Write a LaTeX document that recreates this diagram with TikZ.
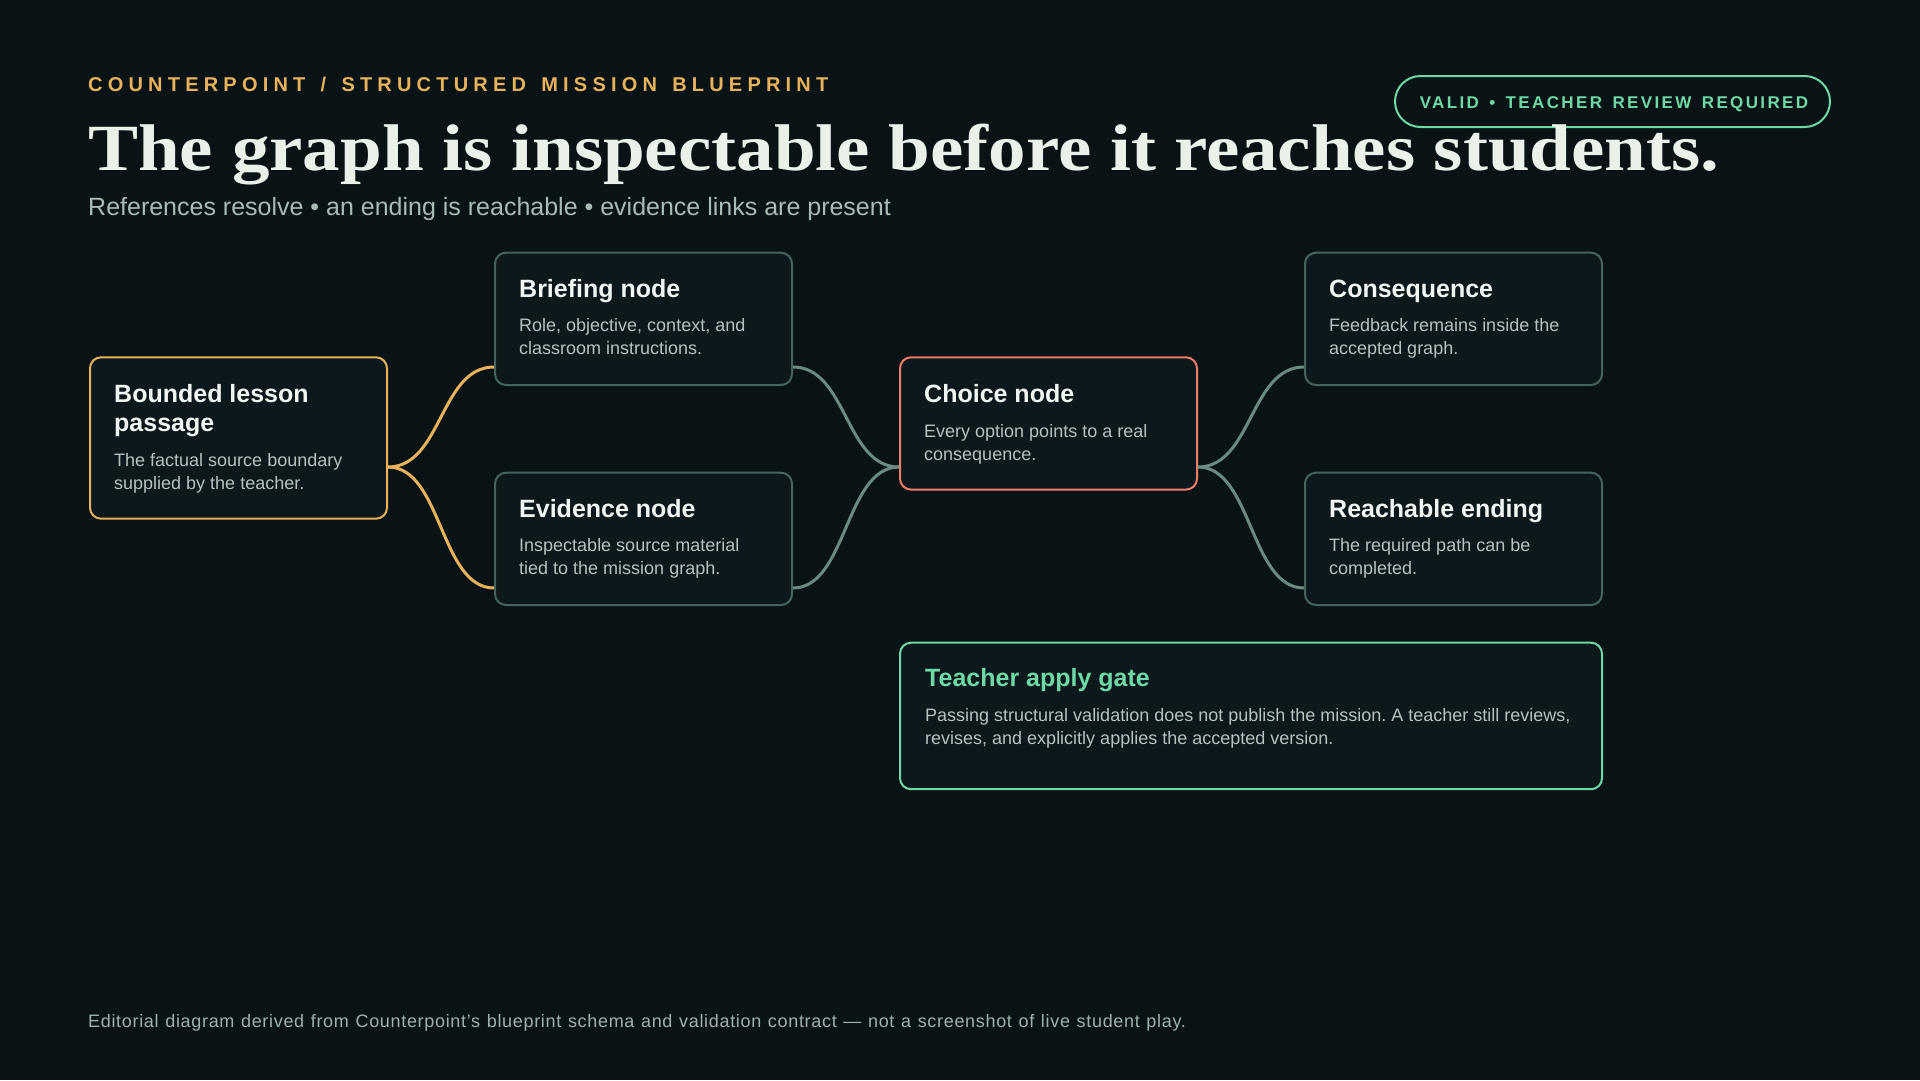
\documentclass[tikz,border=0pt]{standalone}
\usepackage{fontspec}
\setmainfont{Liberation Sans}
\newfontfamily\titlefont{Liberation Serif}[FakeStretch=1.137]
\newfontfamily\eyebrowfont{Liberation Sans}[LetterSpace=26,WordSpace=1.42]
\newfontfamily\badgefont{Liberation Sans}[LetterSpace=14,WordSpace=1.46]
\newfontfamily\footfont{Liberation Sans}[LetterSpace=3.8,WordSpace=1.17]
\usetikzlibrary{calc}
\frenchspacing
\definecolor{bg}{HTML}{091315}
\definecolor{nodefill}{HTML}{0C181B}
\definecolor{nodeline}{HTML}{46635D}
\definecolor{connline}{HTML}{6A8A82}
\definecolor{accorange}{HTML}{E8B15C}
\definecolor{accsalmon}{HTML}{EE7C69}
\definecolor{accgreen}{HTML}{6ED9A6}
\definecolor{headtext}{HTML}{E9F1E9}
\definecolor{titletext}{HTML}{F2F6F2}
\definecolor{bodytext}{HTML}{B4C3BF}
\definecolor{subtext}{HTML}{A8BBB6}
\definecolor{foottext}{HTML}{9DB2AD}
\begin{document}
\frenchspacing
\begin{tikzpicture}[x=1pt,y=-1pt,
  box/.style={draw=nodeline, line width=2pt, fill=nodefill, rounded corners=11pt,
    minimum width=297pt, minimum height=132.3pt, anchor=north west, inner sep=0pt},
  ttl/.style={anchor=base west, inner sep=0pt, text=titletext,
    font=\fontsize{25}{29}\selectfont\bfseries},
  bodytxt/.style={anchor=base west, inner sep=0pt, text=bodytext,
    font=\fontsize{18}{23}\selectfont},
  conn/.style={line width=3pt, connline},
  connorange/.style={line width=3pt, accorange}]
\useasboundingbox (0,0) rectangle (1920,1080);
\fill[bg] (0,0) rectangle (1920,1080);

% header
\node[anchor=base west, inner sep=0pt, text=accorange,
  font=\eyebrowfont\bfseries\fontsize{20}{24}\selectfont] (eyebrow) at (88,91)
  {COUNTERPOINT / STRUCTURED MISSION BLUEPRINT};
\node[draw=accgreen, line width=2pt, rounded corners=25.5pt, minimum width=435pt,
  minimum height=51pt, inner sep=0pt] (badge) at (1612.5,101.5) {};
\node[anchor=base, inner sep=0pt, text=accgreen,
  font=\badgefont\bfseries\fontsize{17}{20}\selectfont] (badgetext) at (1614,108)
  {VALID • TEACHER REVIEW REQUIRED};
\node[anchor=base west, inner sep=0pt, text=headtext,
  font=\titlefont\bfseries\fontsize{66}{72}\selectfont] (title) at (88,170)
  {The graph is inspectable before it reaches students.};
\node[anchor=base west, inner sep=0pt, text=subtext,
  font=\fontsize{25}{30}\selectfont] (subtitle) at (88,215)
  {References resolve • an ending is reachable • evidence links are present};

% boxes
\node[box, draw=accorange, minimum height=161.4pt] (bounded) at (89,356.3) {};
\node[box] (brief) at (494,251.7) {};
\node[box] (evid) at (494,471.7) {};
\node[box, draw=accsalmon] (choice) at (899,356.3) {};
\node[box] (cons) at (1304,251.7) {};
\node[box] (reach) at (1304,471.7) {};
\node[box, draw=accgreen, minimum width=702pt, minimum height=146.5pt] (gate) at (899,641.7) {};

% connection points
\coordinate (boundedOut) at (bounded.east |- 0,467);
\coordinate (briefIn) at (brief.west |- 0,367);
\coordinate (evidIn) at (evid.west |- 0,588);
\coordinate (briefOut) at (brief.east |- 0,367);
\coordinate (evidOut) at (evid.east |- 0,588);
\coordinate (choiceIn) at (choice.west |- 0,467);
\coordinate (choiceOut) at (choice.east |- 0,467);
\coordinate (consIn) at (cons.west |- 0,367);
\coordinate (reachIn) at (reach.west |- 0,588);

\draw[connorange] (boundedOut) .. controls +(54,0) and +(-54,0) .. (briefIn);
\draw[connorange] (boundedOut) .. controls +(54,0) and +(-54,0) .. (evidIn);
\draw[conn] (briefOut) .. controls +(54,0) and +(-54,0) .. (choiceIn);
\draw[conn] (evidOut) .. controls +(54,0) and +(-54,0) .. (choiceIn);
\draw[conn] (choiceOut) .. controls +(54,0) and +(-54,0) .. (consIn);
\draw[conn] (choiceOut) .. controls +(54,0) and +(-54,0) .. (reachIn);

% texts
\node[ttl] (boundedT) at ($(bounded.north west)+(25,45.7)$)
  {\parbox[t]{260pt}{Bounded lesson\\passage}};
\node[bodytxt] (boundedB) at ($(bounded.north west)+(25,109.7)$)
  {\parbox[t]{260pt}{The factual source boundary\\supplied by the teacher.}};

\node[ttl] (briefT) at ($(brief.north west)+(25,45.3)$) {Briefing node};
\node[bodytxt] (briefB) at ($(brief.north west)+(25,79.3)$)
  {\parbox[t]{260pt}{Role, objective, context, and\\classroom instructions.}};

\node[ttl] (evidT) at ($(evid.north west)+(25,45.3)$) {Evidence node};
\node[bodytxt] (evidB) at ($(evid.north west)+(25,79.3)$)
  {\parbox[t]{260pt}{Inspectable source material\\tied to the mission graph.}};

\node[ttl] (choiceT) at ($(choice.north west)+(25,45.7)$) {Choice node};
\node[bodytxt] (choiceB) at ($(choice.north west)+(25,80.7)$)
  {\parbox[t]{260pt}{Every option points to a real\\consequence.}};

\node[ttl] (consT) at ($(cons.north west)+(25,45.3)$) {Consequence};
\node[bodytxt] (consB) at ($(cons.north west)+(25,79.3)$)
  {\parbox[t]{260pt}{Feedback remains inside the\\accepted graph.}};

\node[ttl] (reachT) at ($(reach.north west)+(25,45.3)$) {Reachable ending};
\node[bodytxt] (reachB) at ($(reach.north west)+(25,79.3)$)
  {\parbox[t]{260pt}{The required path can be\\completed.}};

\node[ttl, text=accgreen] (gateT) at ($(gate.north west)+(26,44.3)$) {Teacher apply gate};
\node[bodytxt] (gateB) at ($(gate.north west)+(26,79.3)$)
  {\parbox[t]{680pt}{\frenchspacing Passing structural validation does not publish the mission. A teacher still reviews,\\revises, and explicitly applies the accepted version.}};

% footer
\node[anchor=base west, inner sep=0pt, text=foottext,
  font=\footfont\fontsize{18}{22}\selectfont] (footer) at (88,1027)
  {Editorial diagram derived from Counterpoint’s blueprint schema and validation contract — not a screenshot of live student play.};
\end{tikzpicture}
\end{document}
